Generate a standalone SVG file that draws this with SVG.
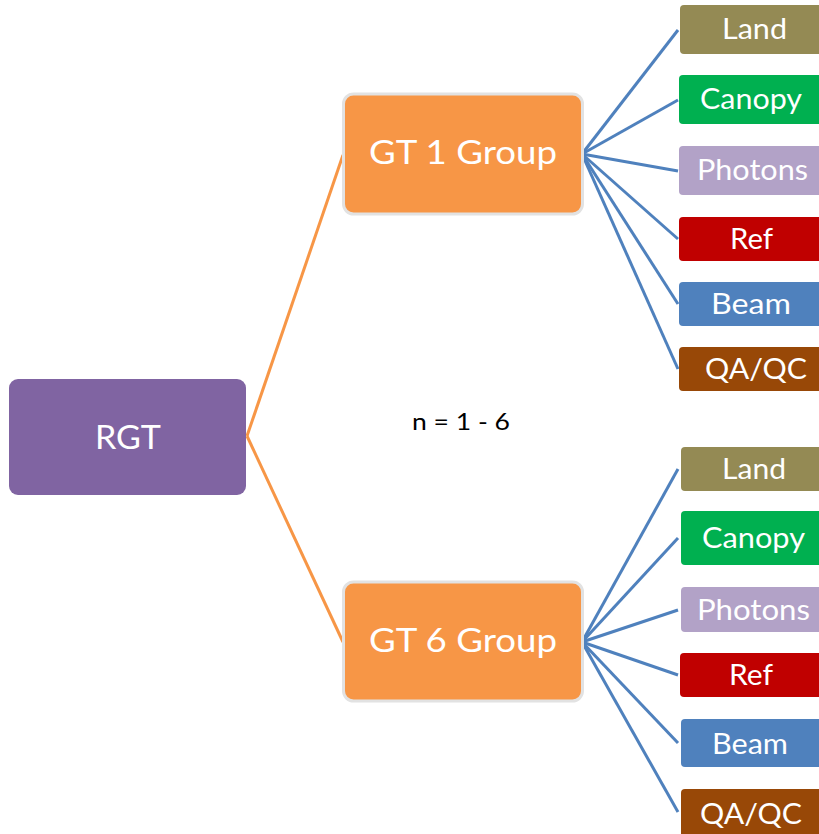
<svg xmlns="http://www.w3.org/2000/svg" width="819" height="834" viewBox="0 0 819 834">
  <style>
    .lbl { font-family: Lato, "Open Sans", sans-serif; fill: #ffffff; text-anchor: middle; }
    .big { font-size: 32px; }
    .small { font-size: 29px; }
    .note { font-family: Lato, "Open Sans", sans-serif; font-size: 24px; fill: #000000; text-anchor: middle; }
    .blue { stroke: #4F81BD; stroke-width: 3; fill: none; }
    .orange { stroke: #F79646; stroke-width: 3; fill: none; }
    .grp { fill: #F79646; stroke: #E2E2E2; stroke-width: 3; }
  </style>

  <!-- connectors -->
  <g id="connectors">
    <line class="orange" x1="247" y1="436" x2="343" y2="155"/>
    <line class="orange" x1="247" y1="436" x2="343" y2="642"/>

    <line class="blue" x1="582" y1="154" x2="678" y2="30"/>
    <line class="blue" x1="582" y1="154" x2="678" y2="100"/>
    <line class="blue" x1="582" y1="154" x2="678" y2="171"/>
    <line class="blue" x1="582" y1="154" x2="678" y2="239"/>
    <line class="blue" x1="582" y1="154" x2="678" y2="304"/>
    <line class="blue" x1="582" y1="154" x2="678" y2="369"/>

    <line class="blue" x1="582" y1="642" x2="678" y2="469"/>
    <line class="blue" x1="582" y1="642" x2="678" y2="538"/>
    <line class="blue" x1="582" y1="642" x2="678" y2="610"/>
    <line class="blue" x1="582" y1="642" x2="678" y2="675"/>
    <line class="blue" x1="582" y1="642" x2="678" y2="743"/>
    <line class="blue" x1="582" y1="642" x2="678" y2="812"/>
  </g>

  <!-- root -->
  <g id="rgt">
    <rect x="9" y="379" width="237" height="116" rx="9" fill="#8064A2"/>
    <text class="lbl big" x="128" y="449" textLength="66" lengthAdjust="spacingAndGlyphs">RGT</text>
  </g>

  <!-- ground-track groups -->
  <g id="gt1">
    <rect class="grp" x="343.5" y="94" width="239" height="120" rx="10"/>
    <text class="lbl big" x="463" y="164" textLength="188" lengthAdjust="spacingAndGlyphs">GT 1 Group</text>
  </g>
  <g id="gt6">
    <rect class="grp" x="343.5" y="582" width="239" height="119" rx="10"/>
    <text class="lbl big" x="463" y="652" textLength="188" lengthAdjust="spacingAndGlyphs">GT 6 Group</text>
  </g>

  <text class="note" x="461" y="430" textLength="98" lengthAdjust="spacingAndGlyphs">n = 1 - 6</text>

  <!-- GT 1 products -->
  <g id="gt1-land">
    <rect x="680" y="5" width="150" height="49" rx="4" fill="#948A54"/>
    <text class="lbl small" x="754.5" y="39" textLength="65" lengthAdjust="spacingAndGlyphs">Land</text>
  </g>
  <g id="gt1-canopy">
    <rect x="679" y="75" width="150" height="49" rx="4" fill="#00B050"/>
    <text class="lbl small" x="751" y="109" textLength="102" lengthAdjust="spacingAndGlyphs">Canopy</text>
  </g>
  <g id="gt1-photons">
    <rect x="679" y="146" width="150" height="49" rx="4" fill="#B2A2C7"/>
    <text class="lbl small" x="752.5" y="180" textLength="111" lengthAdjust="spacingAndGlyphs">Photons</text>
  </g>
  <g id="gt1-ref">
    <rect x="679" y="217" width="150" height="44" rx="4" fill="#C00000"/>
    <text class="lbl small" x="751.5" y="249" textLength="43" lengthAdjust="spacingAndGlyphs">Ref</text>
  </g>
  <g id="gt1-beam">
    <rect x="679" y="282" width="150" height="44" rx="4" fill="#4F81BD"/>
    <text class="lbl small" x="751" y="314" textLength="80" lengthAdjust="spacingAndGlyphs">Beam</text>
  </g>
  <g id="gt1-qaqc">
    <rect x="679" y="347" width="150" height="44" rx="4" fill="#984807"/>
    <text class="lbl small" x="756" y="379" textLength="102" lengthAdjust="spacingAndGlyphs">QA/QC</text>
  </g>

  <!-- GT 6 products -->
  <g id="gt6-land">
    <rect x="681" y="447" width="150" height="44" rx="4" fill="#948A54"/>
    <text class="lbl small" x="754" y="479" textLength="64" lengthAdjust="spacingAndGlyphs">Land</text>
  </g>
  <g id="gt6-canopy">
    <rect x="681" y="511" width="150" height="54" rx="4" fill="#00B050"/>
    <text class="lbl small" x="753.5" y="548" textLength="103" lengthAdjust="spacingAndGlyphs">Canopy</text>
  </g>
  <g id="gt6-photons">
    <rect x="681" y="587" width="150" height="45" rx="4" fill="#B2A2C7"/>
    <text class="lbl small" x="753.5" y="620" textLength="113" lengthAdjust="spacingAndGlyphs">Photons</text>
  </g>
  <g id="gt6-ref">
    <rect x="680" y="653" width="150" height="44" rx="4" fill="#C00000"/>
    <text class="lbl small" x="751" y="685" textLength="44" lengthAdjust="spacingAndGlyphs">Ref</text>
  </g>
  <g id="gt6-beam">
    <rect x="681" y="719" width="150" height="48" rx="4" fill="#4F81BD"/>
    <text class="lbl small" x="750" y="754" textLength="76" lengthAdjust="spacingAndGlyphs">Beam</text>
  </g>
  <g id="gt6-qaqc">
    <rect x="681" y="789" width="150" height="50" rx="4" fill="#984807"/>
    <text class="lbl small" x="751" y="824" textLength="102" lengthAdjust="spacingAndGlyphs">QA/QC</text>
  </g>
</svg>
